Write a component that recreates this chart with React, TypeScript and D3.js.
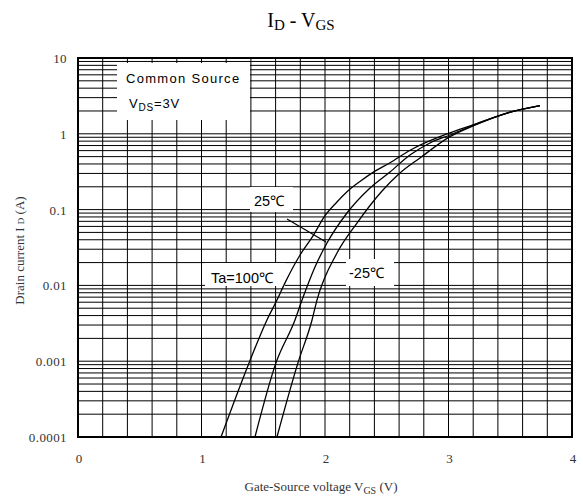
import React from "react";
import * as d3 from "d3";

// ---- data ----
const vgs100 = [1.158, 1.385, 1.53, 1.611, 1.676, 1.798, 1.903, 2.0, 2.095, 2.178, 2.283, 2.389, 2.526, 2.7, 3.012, 3.198, 3.474, 3.741];
const id100 = [0.0001, 0.00095, 0.0035, 0.0064, 0.0108, 0.0252, 0.045, 0.083, 0.125, 0.172, 0.235, 0.31, 0.415, 0.62, 1.03, 1.31, 1.88, 2.35];

const vgs25 = [1.433, 1.603, 1.757, 1.814, 1.919, 2.016, 2.178, 2.356, 2.526, 2.688, 2.85, 3.012, 3.198, 3.474, 3.741];
const id25 = [0.0001, 0.00095, 0.0035, 0.0064, 0.0175, 0.0362, 0.0902, 0.187, 0.313, 0.525, 0.757, 0.964, 1.29, 1.88, 2.35];

const vgsM25 = [1.611, 1.781, 1.895, 1.935, 2.097, 2.259, 2.462, 2.607, 2.769, 3.012, 3.198, 3.474, 3.741];
const idM25 = [0.0001, 0.00095, 0.0035, 0.0064, 0.0267, 0.0665, 0.176, 0.304, 0.48, 0.917, 1.27, 1.88, 2.35];

const xTicks = [0, 1, 2, 3, 4];
const yTicks = [0.0001, 0.001, 0.01, 0.1, 1, 10];
const yTickLabels = ["0.0001", "0.001", "0.01", "0.1", "1", "10"];
const xMinorStep = 0.2;

const L = 78, R = 572, T = 58, B = 437;

export default function App() {
  const x = d3.scaleLinear().domain([0, 4]).range([L, R]);
  const y = d3.scaleLog().domain([0.0001, 10]).range([B, T]);

  const vLines: number[] = [];
  for (let i = 1; i < 4 / xMinorStep; i++) vLines.push(+(i * xMinorStep).toFixed(2));
  const hLines: number[] = [];
  for (let e = -4; e < 1; e++) {
    for (let m = 1; m <= 9; m++) {
      const v = m * Math.pow(10, e);
      if (e === -4 && m === 1) continue;
      hLines.push(v);
    }
  }

  const line = d3
    .line<[number, number]>()
    .x((d) => x(d[0]))
    .y((d) => y(d[1]))
    .curve(d3.curveMonotoneX);

  const series = [
    { v: vgs100, i: id100 },
    { v: vgs25, i: id25 },
    { v: vgsM25, i: idM25 },
  ];

  const serif = "'Liberation Serif', 'DejaVu Serif', serif";
  const sans = "'Liberation Sans', Arial, sans-serif";

  return (
    <svg width={583} height={501} style={{ position: "absolute", left: 0, top: 0, background: "#fff" }}>
      <rect x={0} y={0} width={583} height={501} fill="#fff" />
      {/* title */}
      <text x={301} y={27} textAnchor="middle" fontFamily={serif} fontSize={20} fill="#000">
        I<tspan fontSize={15} dy={3}>D</tspan>
        <tspan dy={-3}> - V</tspan>
        <tspan fontSize={15} dy={3}>GS</tspan>
      </text>

      {/* grid */}
      <g stroke="#000" strokeWidth={1}>
        {vLines.map((v) => (
          <line key={"v" + v} x1={x(v)} x2={x(v)} y1={T} y2={B} />
        ))}
        {hLines.map((v) => (
          <line key={"h" + v} x1={L} x2={R} y1={y(v)} y2={y(v)} />
        ))}
      </g>

      {/* legend / label boxes */}
      <rect x={117} y={63} width={133} height={57} fill="#fff" />
      <text x={126} y={83} fontFamily={sans} fontSize={13} letterSpacing={1.3} fill="#000">
        Common Source
      </text>
      <text x={129} y={108} fontFamily={sans} fontSize={13} letterSpacing={0.8} fill="#000">
        V<tspan fontSize={10} dy={3}>DS</tspan>
        <tspan dy={-3}>=3V</tspan>
      </text>

      <rect x={250} y={187} width={43} height={25} fill="#fff" />
      <text x={254} y={205.5} fontFamily={sans} fontSize={14.5} fill="#000">
        25℃
      </text>

      <rect x={205} y={263} width={80} height={23} fill="#fff" />
      <text x={211} y={282.5} fontFamily={sans} fontSize={14.5} fill="#000">
        Ta=100℃
      </text>

      <rect x={346} y={259} width={48} height={27} fill="#fff" />
      <text x={349} y={277.5} fontFamily={sans} fontSize={14.5} fill="#000">
        -25℃
      </text>

      {/* leader line */}
      <line x1={287} y1={219} x2={326} y2={242} stroke="#000" strokeWidth={1.2} />

      {/* curves */}
      {series.map((s, k) => (
        <path
          key={k}
          d={line(s.v.map((v, j) => [v, s.i[j]] as [number, number])) || ""}
          fill="none"
          stroke="#000"
          strokeWidth={1.3}
        />
      ))}

      {/* frame */}
      <rect x={L} y={T} width={R - L} height={B - T} fill="none" stroke="#000" strokeWidth={2} />

      {/* y tick labels */}
      {yTicks.map((t, k) => (
        <text key={"yt" + t} x={67} y={y(t) + 5} textAnchor="end" fontFamily={serif} fontSize={13} letterSpacing={0.4} fill="#333">
          {yTickLabels[k]}
        </text>
      ))}
      {/* x tick labels */}
      {xTicks.map((t) => (
        <text key={"xt" + t} x={x(t) + 1} y={463} textAnchor="middle" fontFamily={serif} fontSize={13} fill="#333">
          {t}
        </text>
      ))}

      {/* axis titles */}
      <text x={321} y={491} textAnchor="middle" fontFamily={serif} fontSize={13} fill="#333">
        Gate-Source voltage V<tspan fontSize={10} dy={3}>GS</tspan>
        <tspan dy={-3}> (V)</tspan>
      </text>
      <text
        transform={`translate(24, ${(T + B) / 2 + 3}) rotate(-90)`}
        textAnchor="middle"
        fontFamily={serif}
        fontSize={13}
        fill="#333"
      >
        Drain current  I <tspan fontSize={9}>D</tspan> (A)
      </text>
    </svg>
  );
}
